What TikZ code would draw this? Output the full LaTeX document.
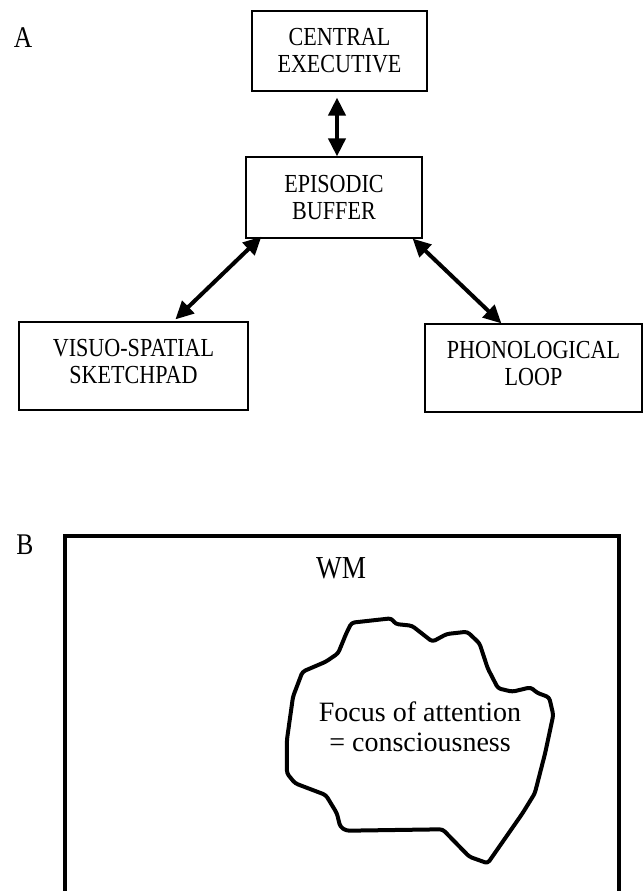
\documentclass[tikz,border=0pt]{standalone}
\usepackage{fontspec}
\setmainfont{Liberation Serif}
\newfontfamily\capsfont[FakeStretch=0.85]{Liberation Serif}
\usetikzlibrary{arrows.meta}
\tikzset{
  boxnode/.style={draw, line width=1.2pt, inner sep=0pt, align=center,
    font=\capsfont\fontsize{26}{27}\selectfont},
  dbl/.style={line width=4pt,
    {Triangle[length=18pt,width=17pt]}-{Triangle[length=18pt,width=17pt]}},
  panel/.style={font=\capsfont\fontsize{30}{32}\selectfont},
  blobline/.style={line width=4pt, line join=round, rounded corners=3pt}
}
\begin{document}
\begin{tikzpicture}[x=1pt,y=-1pt]
\clip (0,0) rectangle (643,891);
\useasboundingbox (0,0) rectangle (643,891);
\fill[white] (0,0) rectangle (643,891);

% Panel A
\node[panel] (labA) at (23,38) {A};
\node[boxnode, minimum width=175pt, minimum height=80pt] (ce) at (339.5,51) {CENTRAL\\EXECUTIVE};
\node[boxnode, minimum width=176pt, minimum height=81pt] (eb) at (334,197.5) {EPISODIC\\BUFFER};
\node[boxnode, minimum width=229pt, minimum height=88pt, text depth=9pt] (vs) at (133.5,366) {VISUO-SPATIAL\\SKETCHPAD};
\node[boxnode, minimum width=217pt, minimum height=88pt, text depth=9pt] (pl) at (533.5,368) {PHONOLOGICAL\\LOOP};

\draw[dbl] ([xshift=-2.5pt,yshift=-6pt]ce.south) -- ([xshift=3pt]eb.north);
\draw[dbl] ([xshift=16pt,yshift=2pt]eb.south west) -- ([xshift=157pt,yshift=2pt]vs.north west);
\draw[dbl] ([xshift=-10pt]eb.south east) -- ([xshift=77pt]pl.north west);

% Panel B
\node[panel] (labB) at (25,545) {B};
\draw[line width=4.5pt] (65,536) rectangle (619,905);
\node[font=\capsfont\fontsize{32}{34}\selectfont] (wm) at (341,568) {WM};

\draw[blobline] (351.6,622.7) -- (391.4,618.3) -- (395.5,624) -- (411.9,625.7)
  -- (432.4,641.7) -- (446.7,634) -- (467.2,631.7) -- (479.5,643.3)
  -- (487.7,668.3) -- (498,688.3) -- (512.3,691.7) -- (530.7,687.3)
  -- (536.9,692.7) -- (549.2,697.3) -- (553.3,715) -- (545.1,753.3)
  -- (534.8,793.3) -- (522.5,813.3) -- (487.7,863.3) -- (469.3,856.7)
  -- (442.6,829.3) -- (346.3,830.7) -- (340.2,826.7) -- (336.9,813.3)
  -- (325.8,795) -- (295.1,783.3) -- (286.9,773.3) -- (286.9,740)
  -- (293,696.7) -- (302.5,671.7) -- (325.8,661.7) -- (338.1,653.3)
  -- (346.3,633.3) -- cycle;
\node[align=center, font=\fontsize{28}{29.5}\selectfont] (foc) at (420,727) {Focus of attention\\= consciousness};
\end{tikzpicture}
\end{document}
